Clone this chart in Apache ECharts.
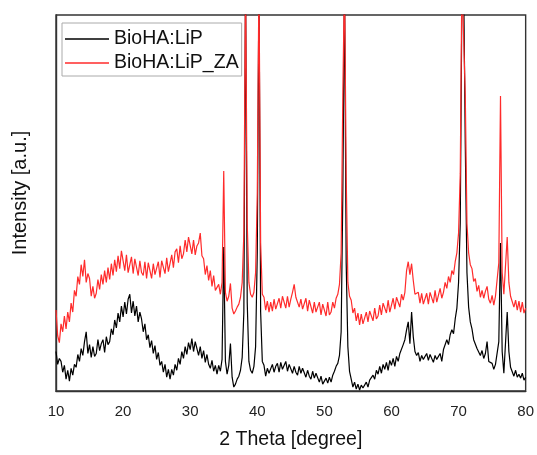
<!DOCTYPE html>
<html>
<head>
<meta charset="utf-8">
<title>XRD BioHA:LiP</title>
<script src="https://cdn.jsdelivr.net/npm/echarts@6/dist/echarts.min.js"></script>
<style>
	html, body { margin: 0; padding: 0; background: #fff; }
	#main { width: 537px; height: 455px; }
</style>
</head>
<body>
<div id="main"></div>
<script>
	// 2 theta 10..80, step 0.25 (one row = one degree)
	var thetaStart = 10,
		thetaStep = 0.25,
		thetaTicks = [10, 20, 30, 40, 50, 60, 70, 80];

	// BioHA:LiP (a.u.)
	var lipCounts = [
		40, 27, 33, 30,
		19, 26, 12, 21,
		10, 23, 16, 27,
		24, 37, 30, 43,
		36, 50, 60, 38,
		47, 34, 45, 35,
		38, 52, 41, 48,
		52, 39, 55, 47,
		50, 63, 57, 72,
		64, 79, 70, 86,
		75, 90, 78, 93,
		98, 79, 91, 76,
		86, 70, 80, 73,
		60, 68, 52, 57,
		44, 51, 38, 46,
		32, 39, 26, 30,
		19, 27, 14, 22,
		12, 22, 16, 27,
		21, 33, 27, 40,
		33, 45, 37, 49,
		42, 53, 40, 50,
		49, 36, 45, 33,
		41, 29, 37, 27,
		23, 31, 20, 26,
		17, 26, 20, 32,
		146, 30, 17, 26,
		48, 14, 4, 7,
		12, 15, 21, 34,
		80, 420, 90, 30,
		21, 18, 25, 45,
		140, 420, 80, 30,
		26, 15, 23, 18,
		17, 27, 19, 25,
		28, 19, 29, 22,
		21, 30, 20, 27,
		28, 18, 25, 19,
		16, 25, 18, 23,
		23, 14, 21, 15,
		12, 20, 13, 18,
		18, 9, 15, 7,
		6, 13, 8, 14,
		9, 16, 20, 25,
		28, 36, 60, 200,
		420, 130, 45, 20,
		12, 4, 9, 2,
		7, 1, 6, 3,
		2, 9, 4, 11,
		9, 16, 12, 21,
		17, 25, 18, 27,
		22, 29, 21, 31,
		26, 33, 25, 35,
		30, 38, 37, 47,
		52, 62, 70, 48,
		80, 55, 40, 36,
		39, 30, 36, 32,
		30, 38, 31, 37,
		38, 29, 36, 32,
		31, 38, 30, 42,
		44, 52, 47, 57,
		62, 58, 73, 84,
		110, 170, 400, 420,
		250, 120, 85, 70,
		63, 52, 53, 43,
		45, 36, 41, 33,
		38, 50, 30, 29,
		28, 22, 27, 28,
		50, 150, 40, 18,
		20, 80, 40, 24,
		23, 15, 21, 14,
		17, 13, 18, 11,
		14
	];

	// BioHA:LiP_ZA
	var lipZaCounts = [
		82, 56, 49, 68,
		60, 76, 63, 80,
		70, 89, 80, 102,
		96, 116, 108, 128,
		116, 133, 110, 119,
		114, 96, 106, 94,
		99, 113, 103, 118,
		108, 122, 110, 125,
		113, 129, 117, 133,
		121, 137, 124, 142,
		140, 122, 138, 120,
		121, 136, 119, 134,
		135, 117, 132, 120,
		117, 131, 114, 130,
		132, 114, 129, 118,
		116, 131, 115, 132,
		133, 119, 135, 121,
		123, 138, 125, 141,
		144, 130, 147, 134,
		139, 153, 141, 156,
		155, 139, 153, 138,
		147, 150, 160, 137,
		134, 118, 127, 112,
		122, 106, 117, 102,
		100, 108, 98, 110,
		223, 100, 91, 96,
		109, 84, 78, 81,
		85, 88, 95, 110,
		160, 420, 170, 110,
		98, 95, 100, 120,
		200, 420, 150, 98,
		95, 82, 91, 80,
		90, 81, 93, 83,
		82, 94, 84, 96,
		95, 84, 96, 85,
		93, 100, 108, 95,
		96, 85, 93, 83,
		82, 94, 81, 92,
		91, 79, 90, 80,
		78, 90, 77, 88,
		89, 76, 90, 77,
		80, 90, 84, 94,
		98, 108, 140, 300,
		420, 220, 110, 96,
		92, 79, 84, 71,
		79, 67, 78, 68,
		69, 80, 70, 81,
		82, 71, 84, 73,
		76, 87, 77, 89,
		90, 79, 92, 80,
		82, 94, 83, 95,
		96, 85, 98, 92,
		100, 122, 131, 118,
		129, 112, 98, 96,
		100, 89, 99, 88,
		90, 99, 88, 100,
		101, 89, 102, 90,
		92, 104, 94, 100,
		110, 104, 116, 110,
		122, 118, 131, 140,
		160, 220, 420, 420,
		300, 170, 140, 128,
		124, 111, 114, 101,
		107, 95, 102, 94,
		101, 106, 93, 89,
		97, 87, 96, 98,
		130, 299, 120, 98,
		100, 156, 110, 96,
		97, 85, 92, 82,
		91, 80, 90, 79,
		84
	];

	var seriesNames = ['BioHA:LiP', 'BioHA:LiP_ZA'];
	var seriesColors = ['#000000', '#ff2b2b'];

	function toPairs(counts) {
		var out = [];
		for (var i = 0; i < counts.length; i++) {
			out.push([thetaStart + i * thetaStep, counts[i]]);
		}
		return out;
	}

	function initEcharts() {
		var myChart = echarts.init(document.getElementById('main'), null, { renderer: 'canvas' });
		var font = 'Arial, "Liberation Sans", sans-serif';

		var option = {
			animation: false,
			backgroundColor: '#fff',
			grid: {
				left: 56,
				right: 8,
				top: 15,
				bottom: 59,
				show: true,
				borderColor: '#333',
				borderWidth: 1.4
			},
			legend: {
				orient: 'vertical',
				left: 62,
				top: 23,
				padding: [6, 3, 3, 3],
				itemGap: 4,
				itemWidth: 44,
				itemHeight: 20,
				// plain line sample, no marker
				icon: 'path://M0,0 L44,0 L44,1.3 L0,1.3 Z',
				borderColor: '#aaa',
				borderWidth: 1,
				backgroundColor: '#fff',
				textStyle: { fontFamily: font, fontSize: 19.5, color: '#111' },
				data: seriesNames
			},
			xAxis: {
				type: 'value',
				min: thetaTicks[0],
				max: thetaTicks[thetaTicks.length - 1],
				interval: 10,
				name: '2 Theta [degree]',
				nameLocation: 'middle',
				nameGap: 39,
				nameTextStyle: { fontFamily: font, fontSize: 19.5, color: '#111' },
				axisLine: { lineStyle: { color: '#333', width: 1.4 } },
				axisTick: { show: false },
				splitLine: { show: false },
				axisLabel: { fontFamily: font, fontSize: 15, color: '#222', margin: 13 }
			},
			yAxis: {
				type: 'value',
				min: 0,
				max: 381,
				axisLine: { show: true, lineStyle: { color: '#333', width: 1.4 } },
				axisTick: { show: false },
				axisLabel: { show: false },
				splitLine: { show: false }
			},
			graphic: [{
				type: 'text',
				x: 20,
				y: 193,
				rotation: Math.PI / 2,
				style: {
					text: 'Intensity [a.u.]',
					fontFamily: font,
					fontSize: 20,
					fill: '#111',
					textAlign: 'center',
					textVerticalAlign: 'middle'
				}
			}],
			series: [{
				name: seriesNames[0],
				type: 'line',
				symbol: 'none',
				clip: true,
				color: seriesColors[0],
				lineStyle: { width: 1.2, color: seriesColors[0] },
				data: toPairs(lipCounts)
			}, {
				name: seriesNames[1],
				type: 'line',
				symbol: 'none',
				clip: true,
				color: seriesColors[1],
				lineStyle: { width: 1.2, color: seriesColors[1] },
				data: toPairs(lipZaCounts)
			}]
		};

		myChart.setOption(option);
	}

	initEcharts();
</script>
</body>
</html>
